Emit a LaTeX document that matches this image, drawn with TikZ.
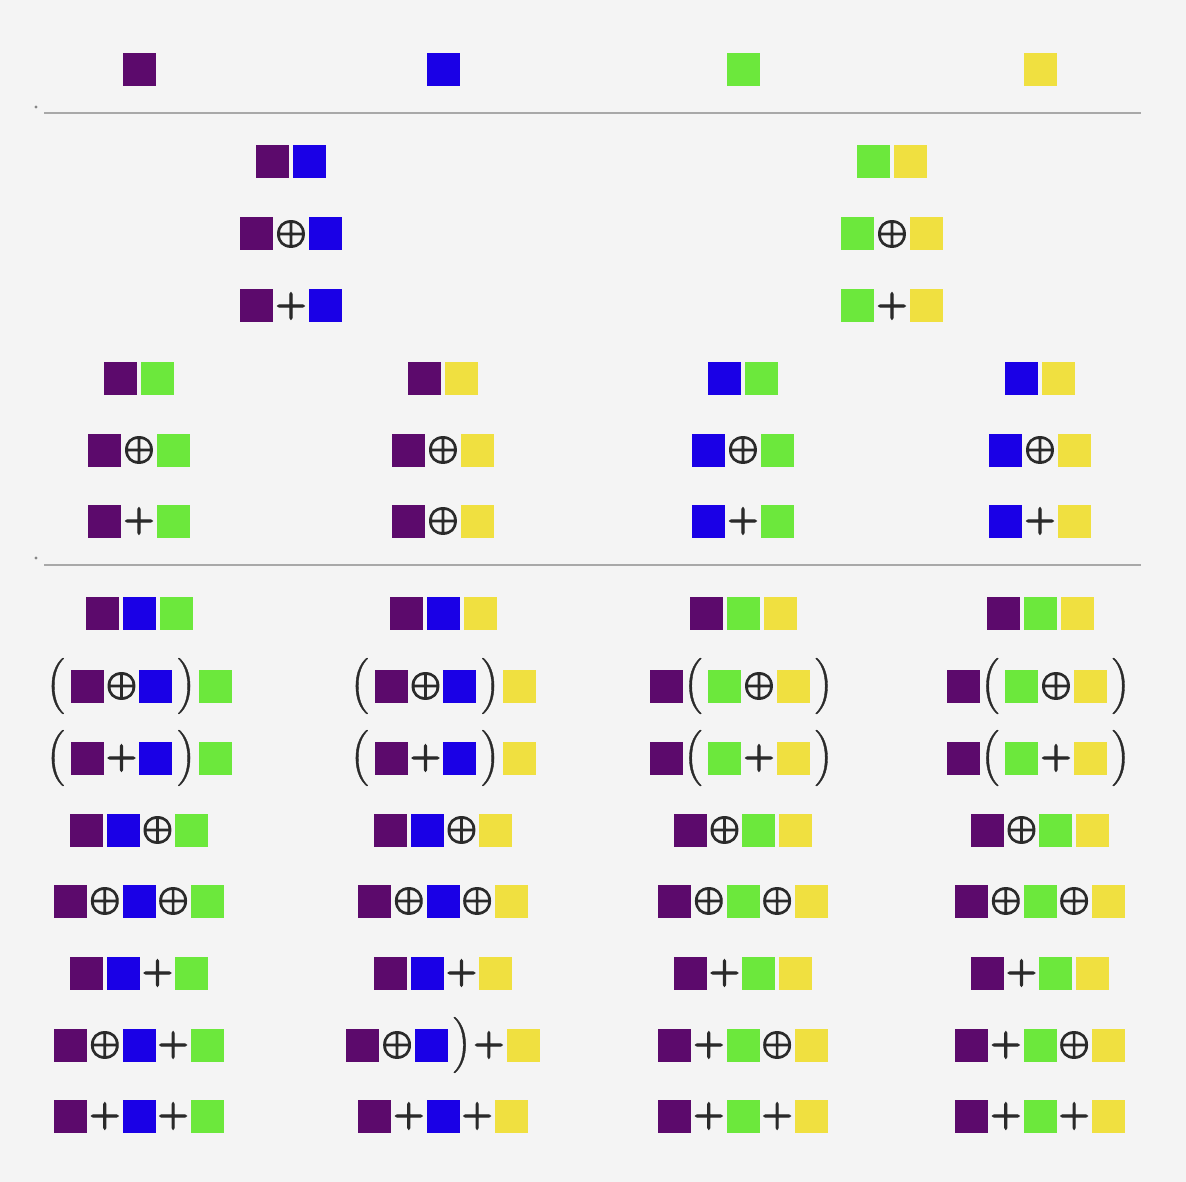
\documentclass[tikz,border=0pt]{standalone}
\usepackage{graphicx}
\usepackage{xcolor}
\definecolor{bgc}{HTML}{F4F4F4}
\definecolor{cP}{HTML}{5C0A6C}
\definecolor{cB}{HTML}{1A00E6}
\definecolor{cG}{HTML}{6CE83C}
\definecolor{cY}{HTML}{F0E040}
\definecolor{rulec}{HTML}{A8A8A8}
\definecolor{symc}{HTML}{2A2A2A}
\newcommand{\Sq}[1]{\textcolor{#1}{\rule[-6.5pt]{33pt}{33pt}}}
\newcommand{\sqP}{\Sq{cP}}
\newcommand{\sqB}{\Sq{cB}}
\newcommand{\sqG}{\Sq{cG}}
\newcommand{\sqY}{\Sq{cY}}
\newcommand{\sk}{\kern4pt}
\newcommand{\Thick}[2]{\special{pdf:literal direct 2 Tr #1 w}#2\special{pdf:literal direct 0 Tr}}
\newcommand{\OpS}{\raisebox{1.25pt}{\scalebox{3.5}{\color{symc}\Thick{0.3}{\boldmath$\oplus$}}}}
\newcommand{\PlS}{\raisebox{1.25pt}{\scalebox{3.5}{\color{symc}\Thick{0.3}{\boldmath$+$}}}}
\newcommand{\Op}{\kern2pt\OpS\kern2pt}
\newcommand{\Pl}{\kern2pt\PlS\kern2pt}
\newcommand{\Lp}{\raisebox{2.25pt}{\scalebox{3.1}{\color{symc}\Thick{0.12}{\boldmath$\Big($}}}\kern6pt}
\newcommand{\Rp}{\kern5pt\raisebox{2.25pt}{\scalebox{3.1}{\color{symc}\Thick{0.12}{\boldmath$\Big)$}}}\kern3pt}
\begin{document}
\begin{tikzpicture}[x=1pt,y=-1pt,
  expr/.style={anchor=base,inner sep=0pt,outer sep=0pt},
  sepline/.style={draw=rulec,line width=2pt},
  sepdot/.style={fill=rulec!80!black,draw=none}]
\useasboundingbox[fill=bgc] (0,0) rectangle (1186,1182);
% separators
\fill[sepdot] (36,107) circle (1.6);
\coordinate (l1a) at (44,113);
\coordinate (l1b) at (1141,113);
\draw[sepline] (l1a) -- (l1b);
\fill[sepdot] (36,558) circle (1.6);
\coordinate (l2a) at (44,565);
\coordinate (l2b) at (1141,565);
\draw[sepline] (l2a) -- (l2b);
% top row
\node[expr] (t1) at (139,80) {\sqP};
\node[expr] (t2) at (443,80) {\sqB};
\node[expr] (t3) at (743,80) {\sqG};
\node[expr] (t4) at (1040,80) {\sqY};
% pairs (first half)
\node[expr] (a1) at (291,172) {\sqP\sk\sqB};
\node[expr] (a2) at (291,244) {\sqP\Op\sqB};
\node[expr] (a3) at (291,316) {\sqP\Pl\sqB};
\node[expr] (a4) at (892,172) {\sqG\sk\sqY};
\node[expr] (a5) at (892,244) {\sqG\Op\sqY};
\node[expr] (a6) at (892,316) {\sqG\Pl\sqY};
% pairs (second half)
\node[expr] (b11) at (139,388) {\sqP\sk\sqG};
\node[expr] (b12) at (139,460) {\sqP\Op\sqG};
\node[expr] (b13) at (139,531) {\sqP\Pl\sqG};
\node[expr] (b21) at (443,388) {\sqP\sk\sqY};
\node[expr] (b22) at (443,460) {\sqP\Op\sqY};
\node[expr] (b23) at (443,531) {\sqP\Op\sqY};
\node[expr] (b31) at (743,388) {\sqB\sk\sqG};
\node[expr] (b32) at (743,460) {\sqB\Op\sqG};
\node[expr] (b33) at (743,531) {\sqB\Pl\sqG};
\node[expr] (b41) at (1040,388) {\sqB\sk\sqY};
\node[expr] (b42) at (1040,460) {\sqB\Op\sqY};
\node[expr] (b43) at (1040,531) {\sqB\Pl\sqY};
% triples column 1
\node[expr] (c11) at (139,623) {\sqP\sk\sqB\sk\sqG};
\node[expr] (c12) at (139,696) {\Lp\sqP\Op\sqB\Rp\sqG};
\node[expr] (c13) at (139,768) {\Lp\sqP\Pl\sqB\Rp\sqG};
\node[expr] (c14) at (139,840) {\sqP\sk\sqB\Op\sqG};
\node[expr] (c15) at (139,911) {\sqP\Op\sqB\Op\sqG};
\node[expr] (c16) at (139,983) {\sqP\sk\sqB\Pl\sqG};
\node[expr] (c17) at (139,1055) {\sqP\Op\sqB\Pl\sqG};
\node[expr] (c18) at (139,1126) {\sqP\Pl\sqB\Pl\sqG};
% triples column 2
\node[expr] (c21) at (443,623) {\sqP\sk\sqB\sk\sqY};
\node[expr] (c22) at (443,696) {\Lp\sqP\Op\sqB\Rp\sqY};
\node[expr] (c23) at (443,768) {\Lp\sqP\Pl\sqB\Rp\sqY};
\node[expr] (c24) at (443,840) {\sqP\sk\sqB\Op\sqY};
\node[expr] (c25) at (443,911) {\sqP\Op\sqB\Op\sqY};
\node[expr] (c26) at (443,983) {\sqP\sk\sqB\Pl\sqY};
\node[expr] (c27) at (443,1055) {\sqP\Op\sqB\Rp\kern-1pt\PlS\kern2pt\sqY};
\node[expr] (c28) at (443,1126) {\sqP\Pl\sqB\Pl\sqY};
% triples column 3
\node[expr] (c31) at (743,623) {\sqP\sk\sqG\sk\sqY};
\node[expr] (c32) at (743,696) {\sqP\kern1pt\Lp\sqG\Op\sqY\Rp};
\node[expr] (c33) at (743,768) {\sqP\kern1pt\Lp\sqG\Pl\sqY\Rp};
\node[expr] (c34) at (743,840) {\sqP\Op\sqG\sk\sqY};
\node[expr] (c35) at (743,911) {\sqP\Op\sqG\Op\sqY};
\node[expr] (c36) at (743,983) {\sqP\Pl\sqG\sk\sqY};
\node[expr] (c37) at (743,1055) {\sqP\Pl\sqG\Op\sqY};
\node[expr] (c38) at (743,1126) {\sqP\Pl\sqG\Pl\sqY};
% triples column 4
\node[expr] (c41) at (1040,623) {\sqP\sk\sqG\sk\sqY};
\node[expr] (c42) at (1040,696) {\sqP\kern1pt\Lp\sqG\Op\sqY\Rp};
\node[expr] (c43) at (1040,768) {\sqP\kern1pt\Lp\sqG\Pl\sqY\Rp};
\node[expr] (c44) at (1040,840) {\sqP\Op\sqG\sk\sqY};
\node[expr] (c45) at (1040,911) {\sqP\Op\sqG\Op\sqY};
\node[expr] (c46) at (1040,983) {\sqP\Pl\sqG\sk\sqY};
\node[expr] (c47) at (1040,1055) {\sqP\Pl\sqG\Op\sqY};
\node[expr] (c48) at (1040,1126) {\sqP\Pl\sqG\Pl\sqY};
\end{tikzpicture}
\end{document}
